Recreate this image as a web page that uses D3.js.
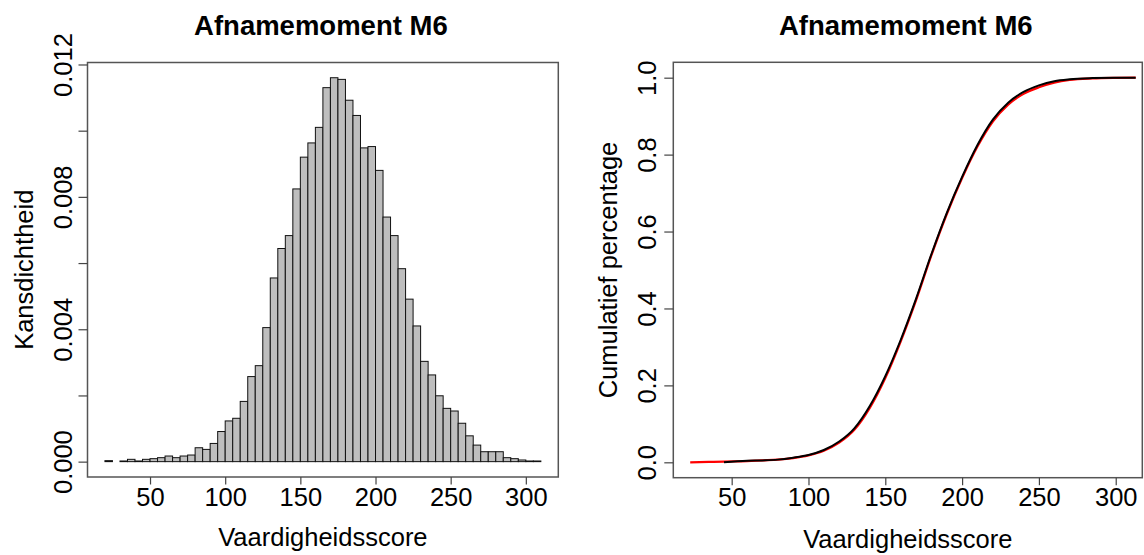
<!DOCTYPE html>
<html>
<head>
<meta charset="utf-8">
<script src="https://cdn.jsdelivr.net/npm/d3@7"></script>
<style>
  html, body { margin: 0; padding: 0; background: #fff; }
  svg { display: block; font-family: "Liberation Sans", Arial, sans-serif; }
</style>
</head>
<body>
<svg id="chart" width="1144" height="555"></svg>
<script>
// ---------- data ----------
const chartTitle = "Afnamemoment M6";
const xLabel = "Vaardigheidsscore";
const yLabelLeft = "Kansdichtheid";
const yLabelRight = "Cumulatief percentage";

// histogram: bin starts (width 5) and densities
const binWidth = 5;
const binStarts = [20,25,30,35,40,45,50,55,60,65,70,75,80,85,90,95,100,105,110,115,120,125,130,135,140,145,150,155,160,165,170,175,180,185,190,195,200,205,210,215,220,225,230,235,240,245,250,255,260,265,270,275,280,285,290,295,300,305];
const densities = [0.00003,0,0.00002,0.00007,0.00002,0.00007,0.00009,0.00012,0.00017,0.00012,0.00017,0.0002,0.00042,0.00037,0.00055,0.00091,0.00123,0.00131,0.00182,0.00257,0.0029,0.00405,0.00555,0.00644,0.00683,0.00824,0.0092,0.00963,0.0101,0.0113,0.0116,0.01155,0.01092,0.01046,0.00948,0.00952,0.0088,0.00739,0.00683,0.00583,0.00491,0.0041,0.00303,0.00262,0.00199,0.00161,0.00153,0.00116,0.00078,0.0005,0.0003,0.0003,0.0003,0.00012,0.00009,0.00005,0.00002,0.00002];

// cumulative curves (black = empirical, red = reference)
const ecdfX = [45,60,70,80,90,100,110,120,130,140,150,160,170,180,190,200,210,220,230,240,250,260,270,285,300,313];
const ecdfY = [0.000,0.004,0.005,0.007,0.012,0.019,0.032,0.054,0.089,0.147,0.224,0.318,0.425,0.541,0.648,0.742,0.825,0.891,0.935,0.963,0.980,0.991,0.996,0.999,1.0,1.0];
const refX = [23,35,45,60,70,80,90,100,110,120,130,140,150,160,170,180,190,200,210,220,230,240,250,260,270,285,300,313];
const refY = [0.000,0.001,0.002,0.003,0.005,0.007,0.011,0.018,0.030,0.051,0.085,0.142,0.219,0.314,0.421,0.538,0.645,0.739,0.821,0.886,0.930,0.958,0.975,0.987,0.994,0.998,0.9995,1.0];

const xTicks = [50,100,150,200,250,300];
const yTicksLeft = [0,0.002,0.004,0.006,0.008,0.010,0.012];
const yTickLabelsLeft = ["0.000","","0.004","","0.008","","0.012"];
const yTicksRight = [0,0.2,0.4,0.6,0.8,1.0];
const yTickLabelsRight = ["0.0","0.2","0.4","0.6","0.8","1.0"];

// ---------- drawing ----------
const svg = d3.select("#chart");
const FS = 25.5;

const L = {x0: 87.5, x1: 558.3, y0: 62.5, y1: 477};
const R = {x0: 673.3, x1: 1142.3, y0: 62.3, y1: 477.7};

const xL = d3.scaleLinear().domain([8.4, 321.6]).range([L.x0, L.x1]);
const yL = d3.scaleLinear().domain([-0.000464, 0.01206]).range([L.y1, L.y0]);
const xR = d3.scaleLinear().domain([12, 317.3]).range([R.x0, R.x1]);
const yR = d3.scaleLinear().domain([-0.04, 1.04]).range([R.y1, R.y0]);

function styleAxis(g) {
  g.select(".domain").remove();
  g.selectAll(".tick line").attr("stroke", "#444").attr("stroke-width", 1.2);
  g.selectAll(".tick text").attr("fill", "#000").style("font-size", FS + "px")
    .style("font-family", "'Liberation Sans', Arial, sans-serif");
}

function xAxis(scale, yPos) {
  const g = svg.append("g").attr("transform", `translate(0,${yPos})`)
    .call(d3.axisBottom(scale).tickValues(xTicks).tickSize(7.5).tickPadding(3).tickFormat(d3.format("d")));
  styleAxis(g);
}

function yAxis(scale, xPos, ticks, labels, labelOffset) {
  const g = svg.append("g").attr("transform", `translate(${xPos},0)`)
    .call(d3.axisLeft(scale).tickValues(ticks).tickSize(9).tickFormat((d, i) => labels[i]));
  styleAxis(g);
  g.selectAll(".tick text")
    .attr("x", null).attr("dy", null)
    .attr("text-anchor", "middle")
    .attr("transform", `translate(${-labelOffset},0) rotate(-90)`);
}

// ----- left: histogram -----
svg.append("g").selectAll("rect")
  .data(binStarts.map((s, i) => ({s, d: densities[i]})).filter(b => b.d > 0))
  .join("rect")
  .attr("x", b => xL(b.s))
  .attr("width", b => xL(b.s + binWidth) - xL(b.s))
  .attr("y", b => yL(b.d))
  .attr("height", b => yL(0) - yL(b.d))
  .attr("fill", "#bebebe")
  .attr("stroke", "#111")
  .attr("stroke-width", 1);

svg.append("rect").attr("x", L.x0).attr("y", L.y0)
  .attr("width", L.x1 - L.x0).attr("height", L.y1 - L.y0)
  .attr("fill", "none").attr("stroke", "#555").attr("stroke-width", 1.5);

xAxis(xL, L.y1);
yAxis(yL, L.x0, yTicksLeft, yTickLabelsLeft, 15.5);

// ----- right: cumulative -----
const line = d3.line().x(d => xR(d[0])).y(d => yR(d[1])).curve(d3.curveMonotoneX);
svg.append("path").datum(refX.map((x, i) => [x, refY[i]]))
  .attr("d", line).attr("fill", "none").attr("stroke", "#ff0000").attr("stroke-width", 2.2);
svg.append("path").datum(ecdfX.map((x, i) => [x, ecdfY[i]]))
  .attr("d", line).attr("fill", "none").attr("stroke", "#000").attr("stroke-width", 2);

svg.append("rect").attr("x", R.x0).attr("y", R.y0)
  .attr("width", R.x1 - R.x0).attr("height", R.y1 - R.y0)
  .attr("fill", "none").attr("stroke", "#555").attr("stroke-width", 1.5);

xAxis(xR, R.y1);
yAxis(yR, R.x0, yTicksRight, yTickLabelsRight, 17.6);

// ----- titles and axis labels -----
function txt(x, y, s, opts = {}) {
  const t = svg.append("text").attr("x", x).attr("y", y).text(s)
    .attr("text-anchor", "middle").attr("fill", "#000")
    .style("font-size", (opts.size || FS) + "px");
  if (opts.bold) t.style("font-weight", "bold");
  if (opts.rotate) t.attr("transform", `rotate(-90,${x},${y})`);
  return t;
}
txt((L.x0 + L.x1) / 2 - 2, 35, chartTitle, {bold: true, size: 27.5});
txt((R.x0 + R.x1) / 2 - 2, 35, chartTitle, {bold: true, size: 27.5});
txt((L.x0 + L.x1) / 2, 546, xLabel);
txt((R.x0 + R.x1) / 2, 548, xLabel);
txt(33.3, (L.y0 + L.y1) / 2, yLabelLeft, {rotate: true});
txt(616.5, (R.y0 + R.y1) / 2, yLabelRight, {rotate: true});
</script>
</body>
</html>
